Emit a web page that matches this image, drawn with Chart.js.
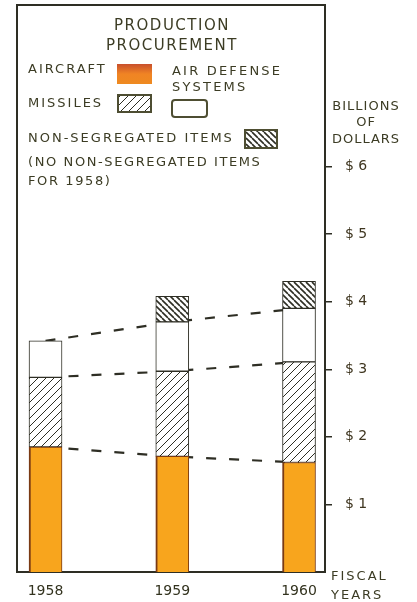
<!DOCTYPE html>
<html>
<head>
<meta charset="utf-8">
<script src="https://cdn.jsdelivr.net/npm/chart.js@4"></script>
<style>
  html, body { margin: 0; padding: 0; background: #fff; }
</style>
</head>
<body>
<canvas id="procChart" width="417" height="602"></canvas>
<script>
// production procurement, billions of dollars by fiscal year
const years = [1958, 1959, 1960];
const aircraft = [1.85, 1.71, 1.62];
const missiles = [1.03, 1.26, 1.49];
const airDefense = [0.54, 0.73, 0.79];
const nonSegregated = [null, 0.38, 0.40];
const dollarTicks = [1, 2, 3, 4, 5, 6];

const ink = '#2e2e24';
const textInk = '#3c3c24';
const font = 'DejaVu Sans';

function hatch(size, dir, width) {
    const c = document.createElement('canvas');
    c.width = size;
    c.height = size;
    const g = c.getContext('2d');
    g.fillStyle = '#fff';
    g.fillRect(0, 0, size, size);
    g.strokeStyle = ink;
    g.lineWidth = width;
    g.beginPath();
    for (let k = -1; k <= 1; k++) {
        if (dir === '/') {
            g.moveTo(k * size, size);
            g.lineTo(k * size + size, 0);
        } else {
            g.moveTo(k * size, 0);
            g.lineTo(k * size + size, size);
        }
    }
    g.stroke();
    return g.createPattern(c, 'repeat');
}

const missileFill = hatch(8, '/', 1);
const nonSegFill = hatch(6, '\\', 1.6);

const pts = vals => years.map((y, i) => ({ x: y, y: vals[i] }));
const level1 = aircraft;
const level2 = aircraft.map((v, i) => v + missiles[i]);
const level3 = level2.map((v, i) => v + airDefense[i]);

const barBase = {
    type: 'bar',
    barThickness: 33,
    borderColor: ink,
    borderWidth: 1,
    borderSkipped: false,
    order: 1
};

const dashLine = (vals, id) => ({
    type: 'line',
    data: pts(vals),
    stack: id,
    borderColor: ink,
    borderWidth: 2.2,
    borderDash: [10, 13],
    pointRadius: 0,
    fill: false,
    order: 2
});

function txt(ctx, s, x, y, size, spacing, align) {
    ctx.font = size + 'px "' + font + '"';
    ctx.letterSpacing = spacing + 'px';
    ctx.textAlign = align || 'left';
    ctx.textBaseline = 'middle';
    ctx.fillText(s, x, y);
}

const decorations = {
    id: 'decorations',
    afterDraw(chart) {
        const ctx = chart.ctx;
        const a = chart.chartArea;
        ctx.save();

        // frame: top and left edges
        ctx.strokeStyle = ink;
        ctx.lineWidth = 2;
        ctx.beginPath();
        ctx.moveTo(a.right, a.top);
        ctx.lineTo(a.left, a.top);
        ctx.lineTo(a.left, a.bottom);
        ctx.stroke();

        ctx.fillStyle = textInk;
        txt(ctx, 'PRODUCTION', 172, 26, 15, 1.5, 'center');
        txt(ctx, 'PROCUREMENT', 172, 46, 15, 1.5, 'center');
        txt(ctx, 'AIRCRAFT', 28, 70, 13, 2);
        txt(ctx, 'AIR DEFENSE', 172, 72, 13, 2.2);
        txt(ctx, 'SYSTEMS', 172, 88, 13, 2.2);
        txt(ctx, 'MISSILES', 28, 104, 13, 2);
        txt(ctx, 'NON-SEGREGATED ITEMS', 28, 139, 13, 2);
        txt(ctx, '(NO NON-SEGREGATED ITEMS', 28, 163, 13, 1.6);
        txt(ctx, 'FOR 1958)', 28, 182, 13, 1.6);

        txt(ctx, 'BILLIONS', 366, 107, 13, 1, 'center');
        txt(ctx, 'OF', 366, 123, 13, 1, 'center');
        txt(ctx, 'DOLLARS', 366, 140, 13, 1, 'center');
        txt(ctx, 'FISCAL', 331, 577, 13, 2);
        txt(ctx, 'YEARS', 331, 596, 13, 2);

        // legend swatches
        const grad = ctx.createLinearGradient(117, 64, 117, 84);
        grad.addColorStop(0, '#c8502c');
        grad.addColorStop(0.5, '#f08424');
        grad.addColorStop(1, '#ee8a20');
        ctx.fillStyle = grad;
        ctx.fillRect(117, 64, 35, 20);

        ctx.lineWidth = 2;
        ctx.strokeStyle = '#4e4e32';
        ctx.fillStyle = missileFill;
        ctx.fillRect(118, 95, 33, 17);
        ctx.strokeRect(118, 95, 33, 17);

        ctx.fillStyle = nonSegFill;
        ctx.fillRect(245, 130, 32, 18);
        ctx.strokeRect(245, 130, 32, 18);

        ctx.beginPath();
        ctx.roundRect(172, 100, 35, 17, 3);
        ctx.stroke();

        ctx.restore();
    }
};

new Chart(document.getElementById('procChart'), {
    type: 'bar',
    data: {
        datasets: [
            { ...barBase, label: 'Aircraft', data: pts(aircraft), backgroundColor: '#f8a51d',
              borderColor: '#7a3a14', borderWidth: { left: 2, right: 1, top: 1, bottom: 0 } },
            { ...barBase, label: 'Missiles', data: pts(missiles), backgroundColor: missileFill },
            { ...barBase, label: 'Air Defense Systems', data: pts(airDefense), backgroundColor: '#fff' },
            { ...barBase, label: 'Non-Segregated Items', data: pts(nonSegregated), backgroundColor: nonSegFill },
            dashLine(level1, 'l1'),
            dashLine(level2, 'l2'),
            dashLine(level3, 'l3')
        ]
    },
    options: {
        responsive: false,
        animation: false,
        layout: { padding: { left: 17, top: 5 } },
        plugins: {
            legend: { display: false },
            tooltip: { enabled: false }
        },
        scales: {
            x: {
                type: 'linear',
                stacked: true,
                offset: false,
                min: 1957.775,
                max: 1960.205,
                afterBuildTicks: s => { s.ticks = years.map(v => ({ value: v })); },
                afterFit: s => { s.height = 30; },
                grid: { display: false, offset: false },
                border: { display: true, color: ink, width: 2 },
                ticks: {
                    callback: v => String(v),
                    color: '#33331f',
                    padding: 3,
                    maxRotation: 0,
                    font: { family: font, size: 14 }
                }
            },
            y: {
                position: 'right',
                stacked: true,
                min: 0,
                max: 8.39,
                afterBuildTicks: s => { s.ticks = dollarTicks.map(v => ({ value: v })); },
                afterFit: s => { s.width = 92; s.paddingTop = 0; s.paddingBottom = 0; },
                grid: { drawOnChartArea: false, drawTicks: true, tickLength: 7, color: ink, lineWidth: 1.5 },
                border: { display: true, color: ink, width: 2 },
                ticks: {
                    callback: v => '$ ' + v,
                    color: '#3f3620',
                    padding: 13,
                    font: { family: font, size: 14 }
                }
            }
        }
    },
    plugins: [decorations]
});
</script>
</body>
</html>
